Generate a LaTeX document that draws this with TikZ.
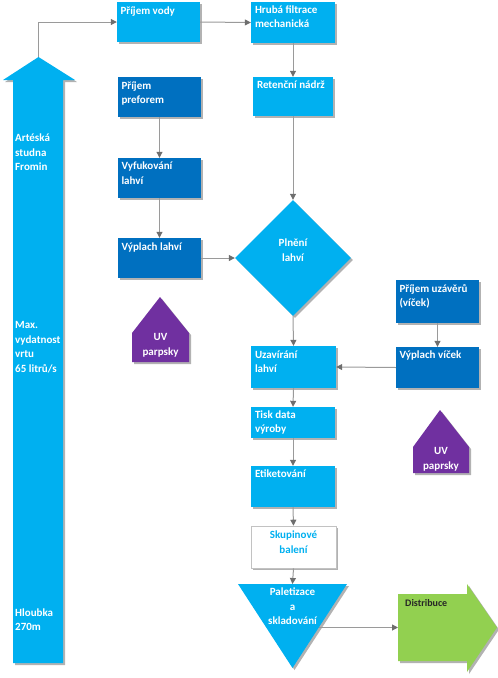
\documentclass[tikz,border=0pt]{standalone}
\usepackage{fontspec}
\setmainfont{Carlito}
\usetikzlibrary{shadows,arrows.meta,fit,shapes.geometric}
\definecolor{lb}{HTML}{00B0F0}
\definecolor{db}{HTML}{0070C0}
\definecolor{pu}{HTML}{7030A0}
\definecolor{gr}{HTML}{92D050}
\definecolor{ln}{HTML}{9A9A9A}
\definecolor{tip}{HTML}{6E6E6E}
\newcommand{\txtl}[1]{\parbox[t]{110pt}{\raggedright #1}}
\newcommand{\txtc}[1]{\parbox[t]{110pt}{\centering #1}}
\begin{document}
\begin{tikzpicture}[x=1pt,y=-1pt,
  shad/.style={drop shadow={shadow xshift=2pt,shadow yshift=-2pt,fill=black,opacity=0.3}},
  lbbox/.style={rectangle,fill=lb,shad,inner sep=0pt},
  dbbox/.style={rectangle,fill=db,shad,inner sep=0pt},
  wbox/.style={rectangle,fill=white,draw=ln!60,line width=0.6pt,shad,inner sep=0pt},
  tx/.style={inner sep=0pt,text=white,font=\bfseries\fontsize{11}{14.5}\selectfont},
  txl/.style={tx,anchor=base west},
  txc/.style={tx,anchor=base},
  conn/.style={draw=ln,line width=1pt,-{Triangle[length=6pt,width=6pt,fill=tip,color=tip]}}]
\useasboundingbox (0,0) rectangle (498,678);
% big arrow
\fill[lb,shad] (13,663) -- (13,80) -- (3,80) -- (38.5,57) -- (75,80) -- (63,80) -- (63,663) -- cycle;
\coordinate (bat) at (38.5,57);
\node[txl] (ba1) at (15,141.5) {\txtl{Artéská\\studna\\Fromin}};
\node[txl] (ba2) at (15,328.5) {\txtl{Max.\\vydatnost\\vrtu\\65 litrů/s}};
\node[txl] (ba3) at (15,616) {\txtl{Hloubka\\270m}};
% top row
\node[lbbox,fit={(117,2)(200,42)}] (pv) {};
\node[txl] (pvt) at ([shift={(3.5,12.5)}]pv.north west) {\txtl{Příjem vody}};
\node[lbbox,fit={(251,2)(335,43)}] (hf) {};
\node[txl] (hft) at ([shift={(4,11.5)}]hf.north west) {\txtl{Hrubá filtrace\\mechanická}};
\node[lbbox,fit={(253,77)(333,116)}] (rn) {};
\node[txl] (rnt) at ([shift={(4,11.5)}]rn.north west) {\txtl{Retenční nádrž}};
% left column
\node[dbbox,fit={(118,77)(201,117)}] (pp) {};
\node[txl] (ppt) at ([shift={(3.5,12.5)}]pp.north west) {\txtl{Příjem\\preforem}};
\node[dbbox,fit={(118,158)(201,198)}] (vf) {};
\node[txl] (vft) at ([shift={(3.5,12)}]vf.north west) {\txtl{Vyfukování\\lahví}};
\node[dbbox,fit={(118,238)(201,278)}] (vl) {};
\node[txl] (vlt) at ([shift={(3.5,12.5)}]vl.north west) {\txtl{Výplach lahví}};
% UV left
\fill[pu,shad] (160,297) -- (189,333) -- (189,362) -- (132,362) -- (132,333) -- cycle;
\node[txc] (uv1) at (160.5,340.5) {\txtc{UV\\parpsky}};
% diamond
\node[diamond,fill=lb,shad,minimum width=116pt,minimum height=116pt,inner sep=0pt] (pl) at (293,258) {};
\node[txc] (plt) at (293,246.5) {\txtc{Plnění\\lahví}};
% right column
\node[dbbox,fit={(396,280)(479,323)}] (pu) {};
\node[txl] (put) at ([shift={(3.5,12.5)}]pu.north west) {\txtl{Příjem uzávěrů\\(víček)}};
\node[dbbox,fit={(396,347)(479,388)}] (vv) {};
\node[txl] (vvt) at ([shift={(3.5,11.5)}]vv.north west) {\txtl{Výplach víček}};
% main column
\node[lbbox,fit={(251,346)(336,388)}] (uz) {};
\node[txl] (uzt) at ([shift={(4,12.5)}]uz.north west) {\txtl{Uzavírání\\lahví}};
\node[lbbox,fit={(251,407)(335,438)}] (td) {};
\node[txl] (tdt) at ([shift={(4,11.5)}]td.north west) {\txtl{Tisk data\\výroby}};
\node[lbbox,fit={(251,466)(335,507)}] (et) {};
\node[txl] (ett) at ([shift={(4,11.5)}]et.north west) {\txtl{Etiketování}};
\node[wbox,fit={(251,526)(336,568)}] (sb) {};
\node[txc,text=lb] (sbt) at (293.5,538.5) {\txtc{Skupinové\\balení}};
% triangle
\fill[lb,shad] (238,584) -- (347,584) -- (292.5,668) -- cycle;
\coordinate (trt) at (292.5,584);
\coordinate (trr) at (319,627.5);
\node[txc] (trtx) at (292.5,595.5) {\txtc{Paletizace\\a\\skladování}};
% distribuce arrow
\fill[gr,shad] (398,594) -- (467,594) -- (467,584) -- (497,627.5) -- (467,672) -- (467,661) -- (398,661) -- cycle;
\coordinate (dw) at (398,627.5);
\node[txl,text=black!85,font=\bfseries\fontsize{10}{12}\selectfont] (dst) at (405,606.5) {\txtl{Distribuce}};
% UV right
\fill[pu,shad] (440,410) -- (469,447) -- (469,473) -- (413,473) -- (413,447) -- cycle;
\node[txc] (uv2) at (441,454.5) {\txtc{UV\\paprsky}};
% connectors
\draw[conn] (bat) |- (pv.west);
\draw[conn] (pv.east) -- (hf.west);
\draw[conn] (hf.south) -- (rn.north);
\draw[conn] (rn.south) -- (pl.north);
\draw[conn] (pp.south) -- (vf.north);
\draw[conn] (vf.south) -- (vl.north);
\draw[conn] (vl.east) -- (pl.west);
\draw[conn] (pl.south) -- (uz.north);
\draw[conn] (pu.south) -- (vv.north);
\draw[conn] (vv.west) -- (uz.east);
\draw[conn] (uz.south) -- (td.north);
\draw[conn] (td.south) -- (et.north);
\draw[conn] (et.south) -- (sb.north);
\draw[conn] (sb.south) -- (trt);
\draw[conn] (trr) -- (dw);
\end{tikzpicture}
\end{document}
